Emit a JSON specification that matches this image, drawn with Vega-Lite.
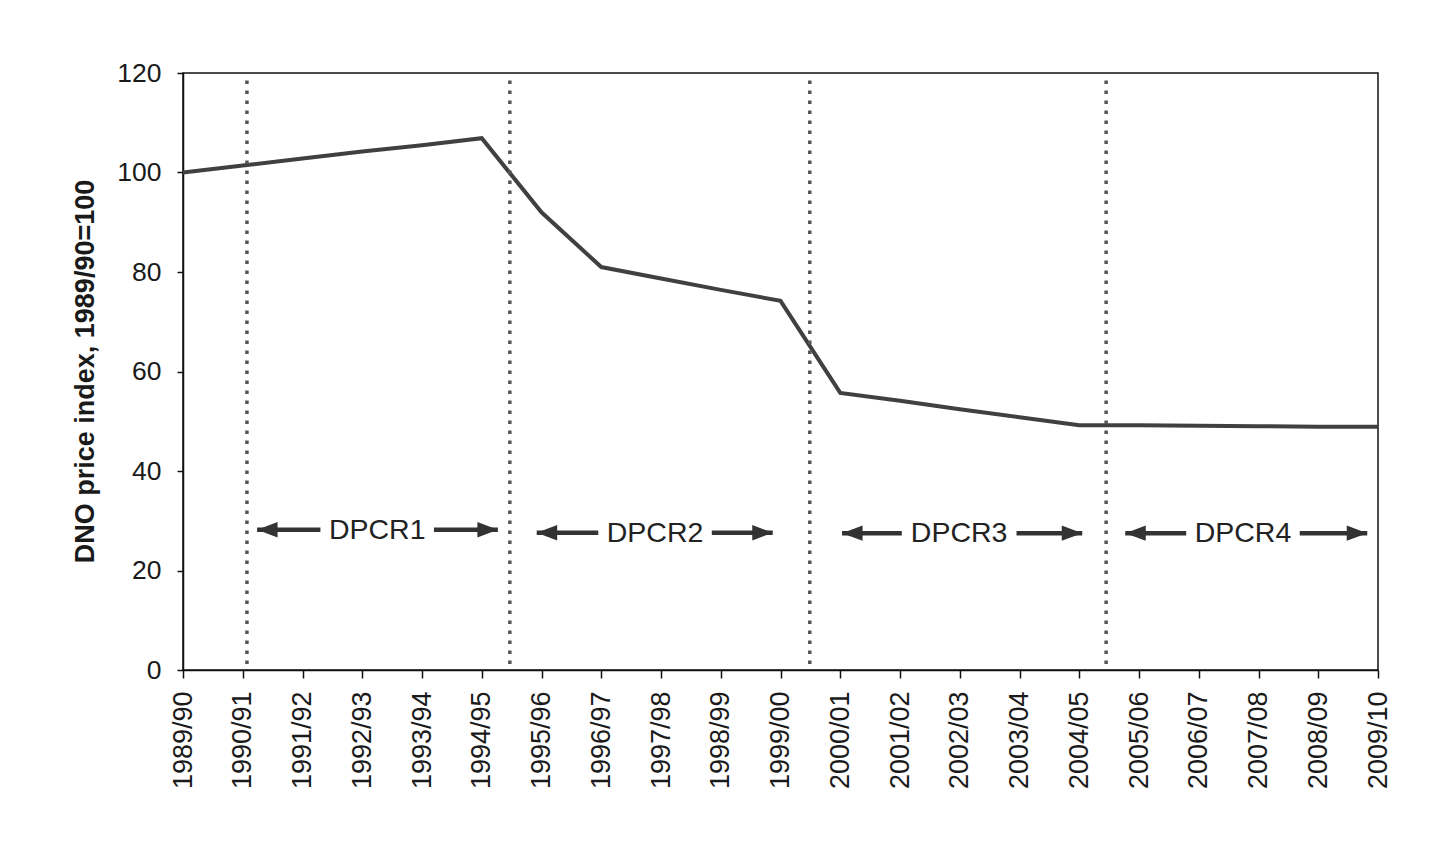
{
  "$schema": "https://vega.github.io/schema/vega-lite/v6.json",
  "width": 1195,
  "height": 597,
  "autosize": {"type": "none"},
  "padding": {"left": 183, "top": 73, "right": 51, "bottom": 172},
  "background": "white",
  "config": {
    "font": "Liberation Sans",
    "view": {"stroke": "#111", "strokeWidth": 1.5},
    "axis": {"grid": false, "domainColor": "#111", "domainWidth": 1.5, "tickColor": "#111", "tickWidth": 1.5, "labelColor": "#1a1a1a", "labelFont": "Liberation Sans"}
  },
  "datasets": {
    "index": [
      {"period": "1989/90", "start": 1989, "index": 100},
      {"period": "1990/91", "start": 1990, "index": 101.4},
      {"period": "1991/92", "start": 1991, "index": 102.8},
      {"period": "1992/93", "start": 1992, "index": 104.2},
      {"period": "1993/94", "start": 1993, "index": 105.5},
      {"period": "1994/95", "start": 1994, "index": 106.9},
      {"period": "1995/96", "start": 1995, "index": 92.0},
      {"period": "1996/97", "start": 1996, "index": 81.0},
      {"period": "1997/98", "start": 1997, "index": 78.7},
      {"period": "1998/99", "start": 1998, "index": 76.4},
      {"period": "1999/00", "start": 1999, "index": 74.2},
      {"period": "2000/01", "start": 2000, "index": 55.7},
      {"period": "2001/02", "start": 2001, "index": 54.1},
      {"period": "2002/03", "start": 2002, "index": 52.4},
      {"period": "2003/04", "start": 2003, "index": 50.8},
      {"period": "2004/05", "start": 2004, "index": 49.2},
      {"period": "2005/06", "start": 2005, "index": 49.2},
      {"period": "2006/07", "start": 2006, "index": 49.1},
      {"period": "2007/08", "start": 2007, "index": 49.0},
      {"period": "2008/09", "start": 2008, "index": 48.9},
      {"period": "2009/10", "start": 2009, "index": 48.9}
    ],
    "boundaries": [
      {"at": 1990.07},
      {"at": 1994.47},
      {"at": 1999.49},
      {"at": 2004.45}
    ],
    "periods": [
      {"label": "DPCR1", "leftTip": 1990.24, "leftEnd": 1991.30, "center": 1992.25, "rightStart": 1993.20, "rightTip": 1994.27, "level": 28.2},
      {"label": "DPCR2", "leftTip": 1994.92, "leftEnd": 1995.95, "center": 1996.90, "rightStart": 1997.85, "rightTip": 1998.87, "level": 27.6},
      {"label": "DPCR3", "leftTip": 2000.03, "leftEnd": 2001.03, "center": 2001.99, "rightStart": 2002.95, "rightTip": 2004.05, "level": 27.5},
      {"label": "DPCR4", "leftTip": 2004.77, "leftEnd": 2005.79, "center": 2006.74, "rightStart": 2007.69, "rightTip": 2008.82, "level": 27.5}
    ]
  },
  "layer": [
    {
      "data": {"name": "index"},
      "mark": {"type": "line", "color": "#404040", "strokeWidth": 4},
      "encoding": {
        "x": {
          "field": "start", "type": "quantitative",
          "scale": {"domain": [1989, 2009], "nice": false, "zero": false},
          "axis": {
            "title": null,
            "values": [1989,1990,1991,1992,1993,1994,1995,1996,1997,1998,1999,2000,2001,2002,2003,2004,2005,2006,2007,2008,2009],
            "labelExpr": "datum.value + '/' + slice('0' + ((datum.value + 1) % 100), -2)",
            "labelAngle": -90,
            "labelFontSize": 27,
            "tickSize": 8,
            "labelPadding": 13
          }
        },
        "y": {
          "field": "index", "type": "quantitative",
          "scale": {"domain": [0, 120], "nice": false},
          "axis": {
            "title": "DNO price index, 1989/90=100",
            "values": [0, 20, 40, 60, 80, 100, 120],
            "labelFontSize": 26.5,
            "tickSize": 6,
            "labelPadding": 16,
            "titleFont": "Liberation Sans",
            "titleFontSize": 27,
            "titleFontWeight": "bold",
            "titleColor": "#1a1a1a",
            "titleX": -90,
            "titleY": 298,
            "titleBaseline": "alphabetic"
          }
        }
      }
    },
    {
      "data": {"name": "boundaries"},
      "mark": {"type": "rule", "color": "#555", "strokeWidth": 3.5, "strokeDash": [3.5, 6.5]},
      "encoding": {
        "x": {"field": "at", "type": "quantitative"},
        "y": {"datum": 1.2},
        "y2": {"datum": 118.8}
      }
    },
    {
      "data": {"name": "periods"},
      "mark": {"type": "rule", "color": "#333", "strokeWidth": 4.5},
      "encoding": {
        "x": {"field": "leftTip", "type": "quantitative"},
        "x2": {"field": "leftEnd"},
        "y": {"field": "level", "type": "quantitative"}
      }
    },
    {
      "data": {"name": "periods"},
      "mark": {"type": "rule", "color": "#333", "strokeWidth": 4.5},
      "encoding": {
        "x": {"field": "rightStart", "type": "quantitative"},
        "x2": {"field": "rightTip"},
        "y": {"field": "level", "type": "quantitative"}
      }
    },
    {
      "data": {"name": "periods"},
      "mark": {"type": "point", "shape": "M 0 0 L 2 -0.75 L 2 0.75 Z", "size": 420, "filled": true, "color": "#333", "opacity": 1},
      "encoding": {
        "x": {"field": "leftTip", "type": "quantitative"},
        "y": {"field": "level", "type": "quantitative"}
      }
    },
    {
      "data": {"name": "periods"},
      "mark": {"type": "point", "shape": "M 0 0 L -2 -0.75 L -2 0.75 Z", "size": 420, "filled": true, "color": "#333", "opacity": 1},
      "encoding": {
        "x": {"field": "rightTip", "type": "quantitative"},
        "y": {"field": "level", "type": "quantitative"}
      }
    },
    {
      "data": {"name": "periods"},
      "mark": {"type": "text", "font": "Liberation Sans", "fontSize": 28.5, "color": "#222", "baseline": "middle", "align": "center"},
      "encoding": {
        "x": {"field": "center", "type": "quantitative"},
        "y": {"field": "level", "type": "quantitative"},
        "text": {"field": "label"}
      }
    }
  ]
}
